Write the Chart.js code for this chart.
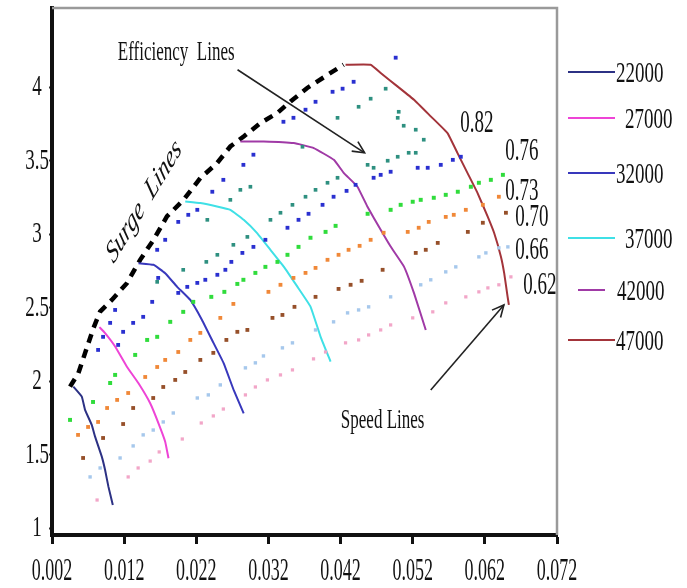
<!DOCTYPE html>
<html><head><meta charset="utf-8">
<script src="https://cdn.jsdelivr.net/npm/chart.js@4.4.1/dist/chart.umd.min.js"></script>
<style>html,body{margin:0;padding:0;background:#fff;}canvas{display:block;}</style>
</head><body>
<canvas id="c" width="687" height="588"></canvas>
<script>
// ---------- axis ticks ----------
const xTickValues = [0.002,0.012,0.022,0.032,0.042,0.052,0.062,0.072];
const xTickLabels = ['0.002','0.012','0.022','0.032','0.042','0.052','0.062','0.072'];
const yTickValues = [1,1.5,2,2.5,3,3.5,4];
const yTickLabels = ['1','1.5','2','2.5','3','3.5','4'];

// ---------- speed lines ----------
const speedLabels = ['22000','27000','32000','37000','42000','47000'];
const s22000X = [0.00496,0.00613,0.00658,0.00751,0.00797,0.00890,0.00936,0.00982,0.01043];
const s22000Y = [1.964,1.896,1.806,1.704,1.624,1.488,1.397,1.284,1.159];
const s27000X = [0.00857,0.00936,0.01075,0.01238,0.01399,0.01561,0.01676,0.01769,0.01815];
const s27000Y = [2.369,2.328,2.237,2.100,1.987,1.851,1.715,1.590,1.477];
const s32000X = [0.01399,0.01607,0.01769,0.01932,0.02117,0.02279,0.02440,0.02579,0.02718,0.02857];
const s32000Y = [2.804,2.793,2.736,2.645,2.554,2.418,2.260,2.124,1.942,1.783];
const s37000X = [0.02047,0.02256,0.02487,0.02672,0.02857,0.03043,0.03228,0.03412,0.03599,0.03783,0.03922,0.04061];
const s37000Y = [3.224,3.213,3.190,3.167,3.099,3.009,2.895,2.781,2.646,2.509,2.305,2.135];
const s42000X = [0.02811,0.03135,0.03551,0.03829,0.04107,0.04246,0.04432,0.04571,0.04756,0.04894,0.05079,0.05218,0.05381];
const s42000Y = [3.632,3.632,3.621,3.587,3.507,3.417,3.326,3.190,3.031,2.917,2.781,2.600,2.350];
const s47000X = [0.04269,0.04617,0.04756,0.04988,0.05218,0.05450,0.05682,0.05821,0.05960,0.06099,0.06238,0.06329,0.06422,0.06468,0.06515,0.06533];
const s47000Y = [4.154,4.154,4.098,4.007,3.916,3.803,3.689,3.553,3.417,3.281,3.122,3.009,2.850,2.736,2.577,2.520];

// ---------- surge line ----------
const surgeX = [0.00450,0.00565,0.00658,0.00774,0.00867,0.01029,0.01238,0.01422,0.01607,0.01793,0.02024,0.02256,0.02488,0.02672,0.02857,0.03089,0.03321,0.03506,0.03738,0.04061,0.04242];
const surgeY = [1.964,2.055,2.192,2.362,2.475,2.554,2.668,2.827,2.963,3.122,3.235,3.383,3.485,3.598,3.666,3.757,3.825,3.904,3.996,4.098,4.154];

// ---------- efficiency lines (dotted) ----------
const effLabels = ['0.82','0.76','0.73','0.70','0.66','0.62'];
const pinkX = [0.00825,0.01256,0.01394,0.01561,0.01686,0.02006,0.02269,0.02436,0.02575,0.02881,0.03019,0.03186,0.03367,0.03533,0.03825,0.03992,0.04269,0.04450,0.04589,0.04756,0.04894,0.05200,0.05478,0.05658,0.05936,0.06117,0.06242,0.06394,0.06561];
const pinkY = [1.193,1.350,1.411,1.458,1.520,1.608,1.717,1.765,1.812,1.908,1.962,2.010,2.044,2.078,2.153,2.200,2.262,2.282,2.316,2.350,2.384,2.432,2.473,2.534,2.575,2.609,2.636,2.657,2.711];
const lightBlueX = [0.00728,0.00867,0.01144,0.01325,0.01464,0.01603,0.01742,0.01881,0.02214,0.02367,0.02533,0.02881,0.03019,0.03131,0.03394,0.03533,0.03853,0.04103,0.04297,0.04450,0.04589,0.04894,0.05311,0.05450,0.05658,0.05797,0.06117,0.06214,0.06394,0.06519];
const lightBlueY = [1.350,1.411,1.479,1.561,1.636,1.669,1.724,1.785,1.887,1.908,1.976,2.092,2.126,2.173,2.228,2.262,2.350,2.405,2.466,2.486,2.507,2.575,2.657,2.691,2.745,2.779,2.847,2.874,2.908,2.915];
const brownX = [0.00631,0.00908,0.01186,0.01325,0.01603,0.01742,0.01908,0.02047,0.02256,0.02436,0.02617,0.02769,0.02908,0.03256,0.03394,0.03561,0.03853,0.04172,0.04339,0.04492,0.04783,0.05242,0.05381,0.05547,0.05964,0.06172,0.06492];
const brownY = [1.479,1.615,1.710,1.819,1.887,1.962,2.010,2.064,2.146,2.194,2.282,2.337,2.350,2.432,2.452,2.507,2.575,2.629,2.657,2.684,2.759,2.874,2.895,2.942,3.017,3.079,3.147];
const orangeX = [0.00561,0.00700,0.00839,0.00964,0.01103,0.01256,0.01492,0.01658,0.01769,0.01950,0.02117,0.02256,0.02533,0.02714,0.03200,0.03367,0.03547,0.03714,0.03853,0.04019,0.04172,0.04311,0.04464,0.04617,0.04797,0.05131,0.05283,0.05422,0.05658,0.05769,0.05936,0.06172,0.06394];
const orangeY = [1.636,1.690,1.724,1.819,1.874,1.921,2.030,2.098,2.146,2.200,2.282,2.330,2.432,2.527,2.609,2.657,2.704,2.738,2.772,2.827,2.861,2.895,2.922,2.963,3.011,3.017,3.045,3.085,3.119,3.133,3.167,3.201,3.256];
const greenX = [0.00450,0.00769,0.01006,0.01075,0.01353,0.01519,0.01658,0.01839,0.02019,0.02158,0.02408,0.02589,0.02769,0.02853,0.03019,0.03158,0.03325,0.03464,0.03617,0.03783,0.03992,0.04131,0.04575,0.04894,0.05033,0.05200,0.05311,0.05492,0.05658,0.05825,0.06006,0.06117,0.06283,0.06450];
const greenY = [1.738,1.860,1.989,2.044,2.180,2.282,2.303,2.405,2.473,2.541,2.575,2.609,2.663,2.691,2.738,2.779,2.813,2.861,2.915,2.977,3.017,3.058,3.140,3.167,3.201,3.222,3.235,3.249,3.269,3.290,3.324,3.351,3.371,3.405];
const blueX = [0.00839,0.00908,0.01006,0.01075,0.01117,0.01186,0.01325,0.01464,0.01589,0.01672,0.01658,0.01769,0.01950,0.02089,0.02214,0.02422,0.02575,0.02853,0.02992,0.03408,0.03547,0.03714,0.03853,0.04089,0.04228,0.04381,0.04964,0.01950,0.02075,0.02214,0.02325,0.02492,0.02603,0.02686,0.02839,0.02992,0.03158,0.03464,0.03617,0.03756,0.03950,0.04103,0.04283,0.04408,0.04658,0.04756,0.04894,0.05269,0.05408,0.05589,0.05756,0.05867];
const blueY = [2.214,2.303,2.398,2.486,2.248,2.337,2.398,2.439,2.541,2.704,2.895,2.963,3.085,3.133,3.167,3.290,3.371,3.473,3.542,3.766,3.793,3.848,3.902,3.970,3.991,4.038,4.202,2.602,2.643,2.670,2.691,2.725,2.759,2.813,2.874,2.915,2.963,3.045,3.099,3.140,3.201,3.256,3.296,3.337,3.385,3.405,3.426,3.453,3.453,3.473,3.507,3.528];
const tealX = [0.01658,0.02019,0.02339,0.02492,0.02714,0.02908,0.03228,0.03367,0.03533,0.03714,0.03853,0.04019,0.04158,0.04575,0.04658,0.04853,0.04992,0.05144,0.05242,0.02353,0.02672,0.02811,0.02950,0.03672,0.04158,0.04450,0.04617,0.04825,0.05006,0.04992,0.05075,0.05242,0.05353];
const tealY = [2.677,2.759,2.813,2.861,2.929,2.983,3.099,3.147,3.201,3.256,3.303,3.351,3.385,3.473,3.453,3.501,3.528,3.555,3.555,3.099,3.235,3.303,3.324,3.596,3.793,3.868,3.923,3.991,3.834,3.793,3.739,3.712,3.644];

// ---------- annotation anchors (data units) ----------
const effLabelX = [0.06089,0.06714,0.06714,0.06853,0.06853,0.06964];
const effLabelY = [3.753,3.562,3.290,3.113,2.888,2.650];

const xy = (xs, ys) => xs.map((x, i) => ({x: x, y: ys[i]}));
const speedColors = ['#2c3184','#ee44d6','#3838bc','#3fe0e6','#a03aa6','#a3343a'];
const speedData = [[s22000X,s22000Y],[s27000X,s27000Y],[s32000X,s32000Y],[s37000X,s37000Y],[s42000X,s42000Y],[s47000X,s47000Y]];

const dots = (label, xs, ys, color, r) => ({
  label: label, data: xy(xs, ys), showLine: false, pointStyle: 'rect',
  pointRadius: r, pointBorderWidth: 0, backgroundColor: color, borderColor: color
});
const datasets = [
  dots('eff-pink', pinkX, pinkY, '#f2a6c8', 2.3),
  dots('eff-lightblue', lightBlueX, lightBlueY, '#a6c8ec', 2.4),
  dots('eff-brown', brownX, brownY, '#96502a', 2.7),
  dots('eff-orange', orangeX, orangeY, '#f08838', 2.7),
  dots('eff-green', greenX, greenY, '#30dc3c', 2.8),
  dots('eff-blue', blueX, blueY, '#2a30d0', 2.7),
  dots('eff-teal', tealX, tealY, '#2e9080', 2.6)
];
speedData.forEach((d, i) => datasets.push({
  label: speedLabels[i], data: xy(d[0], d[1]), showLine: true, pointRadius: 0,
  borderColor: speedColors[i], borderWidth: 2, tension: 0.1, fill: false
}));
datasets.push({
  label: 'surge', data: xy(surgeX, surgeY), showLine: true, pointRadius: 0,
  borderColor: '#000', borderWidth: 4.5, borderDash: [9, 7], borderCapStyle: 'butt', fill: false
});

const SERIF = '"Liberation Serif","Times New Roman",serif';
function sText(ctx, text, x, y, size, sy, align, style, rot) {
  ctx.save();
  ctx.translate(x, y);
  ctx.scale(1, sy);
  if (rot) ctx.rotate(rot);
  ctx.font = (style || '') + ' ' + size + 'px ' + SERIF;
  ctx.fillStyle = '#111';
  ctx.textAlign = align || 'center';
  ctx.textBaseline = 'middle';
  ctx.fillText(text, 0, 0);
  ctx.restore();
}
function arrow(ctx, x1, y1, x2, y2) {
  ctx.save();
  ctx.strokeStyle = '#222'; ctx.lineWidth = 1.6;
  ctx.beginPath(); ctx.moveTo(x1, y1); ctx.lineTo(x2, y2); ctx.stroke();
  const a = Math.atan2(y2 - y1, x2 - x1), L = 13, s = 0.45;
  ctx.beginPath();
  ctx.moveTo(x2 - L * Math.cos(a - s), y2 - L * Math.sin(a - s));
  ctx.lineTo(x2, y2);
  ctx.lineTo(x2 - L * Math.cos(a + s), y2 - L * Math.sin(a + s));
  ctx.stroke();
  ctx.restore();
}
const legendLayout = [
  {y: 72, x1: 568, x2: 615, tx: 616},
  {y: 118, x1: 568, x2: 615, tx: 625},
  {y: 173, x1: 568, x2: 615, tx: 616},
  {y: 238, x1: 568, x2: 615, tx: 625},
  {y: 290, x1: 578, x2: 605, tx: 617},
  {y: 340, x1: 568, x2: 615, tx: 616}
];

const decor = {
  id: 'decor',
  afterDraw(chart) {
    const ctx = chart.ctx, xs = chart.scales.x, ys = chart.scales.y, a = chart.chartArea;
    ctx.save();
    ctx.strokeStyle = '#9a9a9a'; ctx.lineWidth = 2.5;
    ctx.beginPath(); ctx.moveTo(a.left, a.top); ctx.lineTo(a.right, a.top); ctx.lineTo(a.right, a.bottom); ctx.stroke();
    ctx.restore();
    xTickValues.forEach((v, i) => sText(ctx, xTickLabels[i], xs.getPixelForValue(v), 572, 18, 1.7, 'center'));
    yTickValues.forEach((v, i) => sText(ctx, yTickLabels[i], 37, ys.getPixelForValue(v), 19, 1.6, 'center'));
    effLabels.forEach((t, i) => sText(ctx, t, xs.getPixelForValue(effLabelX[i]), ys.getPixelForValue(effLabelY[i]), 19, 1.65, 'center'));
    const P = (x, y) => [xs.getPixelForValue(x), ys.getPixelForValue(y)];
    let p = P(0.01922, 4.236); sText(ctx, 'Efficiency  Lines', p[0], p[1], 17, 1.6, 'center');
    let q1 = P(0.02772, 4.120), q2 = P(0.04533, 3.555); arrow(ctx, q1[0], q1[1], q2[0], q2[1]);
    p = P(0.04783, 1.731); sText(ctx, 'Speed Lines', p[0], p[1], 17, 1.6, 'center');
    q1 = P(0.05450, 1.942); q2 = P(0.06464, 2.520); arrow(ctx, q1[0], q1[1], q2[0], q2[1]);
    p = P(0.01478, 3.222); sText(ctx, 'Surge  Lines', p[0], p[1], 20, 1.6, 'center', 'italic', -0.80);
    legendLayout.forEach((L, i) => {
      ctx.save(); ctx.strokeStyle = speedColors[i]; ctx.lineWidth = 2;
      ctx.beginPath(); ctx.moveTo(L.x1, L.y); ctx.lineTo(L.x2, L.y); ctx.stroke(); ctx.restore();
      sText(ctx, speedLabels[i], L.tx, L.y + 2, 19, 1.6, 'left');
    });
  }
};

new Chart(document.getElementById('c'), {
  type: 'scatter',
  data: {datasets: datasets},
  options: {
    responsive: false, devicePixelRatio: 1, animation: false,
    layout: {padding: {top: 8, right: 130, left: 0, bottom: 0}},
    plugins: {legend: {display: false}, tooltip: {enabled: false}},
    scales: {
      x: {
        type: 'linear', min: 0.002, max: 0.072,
        afterBuildTicks: s => { s.ticks = xTickValues.map(v => ({value: v})); },
        afterFit: s => { s.height = 53; },
        ticks: {display: false},
        grid: {drawOnChartArea: false, drawTicks: true, tickLength: 9, tickWidth: 3, tickColor: '#111'},
        border: {display: true, color: '#111', width: 4}
      },
      y: {
        type: 'linear', min: 0.955, max: 4.54,
        afterBuildTicks: s => { s.ticks = yTickValues.map(v => ({value: v})); },
        afterFit: s => { s.width = 52; },
        ticks: {display: false},
        grid: {drawOnChartArea: false, drawTicks: true, tickLength: 3, tickWidth: 2, tickColor: '#333'},
        border: {display: true, color: '#111', width: 4}
      }
    }
  },
  plugins: [decor]
});
</script>
</body></html>
